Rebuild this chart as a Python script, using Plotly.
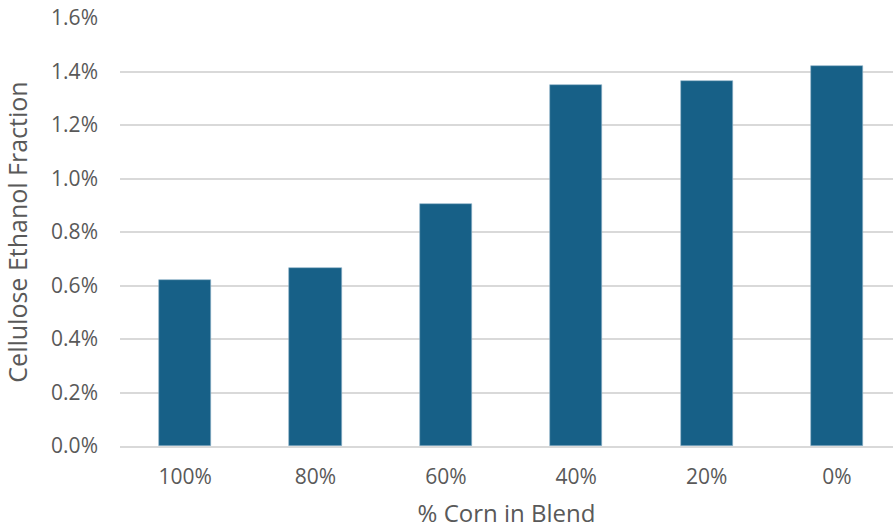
import plotly.graph_objects as go

categories = ["100%", "80%", "60%", "40%", "20%", "0%"]
values = [0.0062, 0.00667, 0.00906, 0.01351, 0.01366, 0.0142]
y_ticks = [0, 0.002, 0.004, 0.006, 0.008, 0.010, 0.012, 0.014, 0.016]
y_tick_labels = ["0.0%", "0.2%", "0.4%", "0.6%", "0.8%", "1.0%", "1.2%", "1.4%", "1.6%"]

fig = go.Figure(go.Bar(
    x=list(range(len(categories))),
    y=values,
    width=0.4,
    marker=dict(color="#176087", line=dict(color="#8fb3c9", width=0.6)),
))

font_family = "Open Sans, Liberation Sans, sans-serif"
fig.update_layout(
    width=893, height=529,
    margin=dict(l=120, r=0, t=18, b=83),
    paper_bgcolor="white", plot_bgcolor="white",
    showlegend=False,
    font=dict(family=font_family, color="#595959", size=21),
    xaxis=dict(
        range=[-0.5, 5.43],
        tickmode="array",
        tickvals=list(range(len(categories))),
        ticktext=categories,
        showgrid=False,
        showline=True, linecolor="#d9d9d9", linewidth=1.5,
        ticks="", ticklen=0,
        ticklabelstandoff=11,
        tickfont=dict(size=21, color="#595959"),
        title=dict(text="% Corn in Blend", font=dict(size=24, color="#595959"), standoff=17),
        zeroline=False,
    ),
    yaxis=dict(
        range=[0, 0.016],
        tickmode="array",
        tickvals=y_ticks,
        ticktext=y_tick_labels,
        showgrid=True, gridcolor="#d9d9d9", gridwidth=1.5,
        zeroline=False,
        showline=False,
        ticks="", ticklen=0,
        ticklabelstandoff=21,
        tickfont=dict(size=21, color="#595959"),
        title=dict(text="Cellulose Ethanol Fraction", font=dict(size=25, color="#595959"), standoff=16),
    ),
    bargap=0,
)

fig.write_html("out.html")
